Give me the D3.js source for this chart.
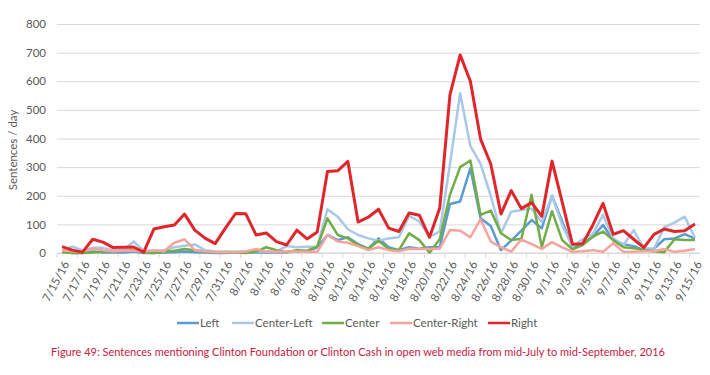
<!DOCTYPE html>
<html>
<head>
<meta charset="utf-8">
<script src="https://cdn.jsdelivr.net/npm/d3@7"></script>
<style>
  body { margin: 0; background: #fff; }
  svg { display: block; font-family: Lato, "Open Sans", sans-serif; }
</style>
</head>
<body>
<svg id="chart" width="710" height="375"></svg>
<script>
// categories : un point par jour, du 15 juillet au 15 septembre 2016
const dates = d3.timeDays(new Date(2016, 6, 15), new Date(2016, 8, 16));
const fmt = d3.timeFormat("%-m/%-d/%y");

const yTicks = [0, 100, 200, 300, 400, 500, 600, 700, 800];

const seriesNames = ["Left", "Center-Left", "Center", "Center-Right", "Right"];
const couleurs = ["#5b9bd5", "#a9c8e8", "#70ad47", "#f4a49c", "#e0262a"];

// valeurs (phrases / jour)
const left = [5, 0, 0, 5, 2, 3, 2, 5, 0, 0, 2, 3, 5, 3, 2, 0, 0,
  3, 2, 2, 3, 2, 3, 8, 5, 20, 63, 45, 55, 31, 15, 51, 20, 10,
  20, 15, 20, 20, 171, 180, 296, 121, 94, 10, 43, 78, 115, 86, 200,
  110, 20, 34, 57, 98, 45, 31, 24, 10, 15, 48, 51, 66, 50];
const centerLeft = [10, 22, 10, 18, 18, 10, 10, 40, 8, 6, 10, 20, 25, 30, 10, 5, 5,
  5, 5, 5, 5, 5, 24, 20, 22, 22, 153, 127, 83, 63, 51, 43, 51, 55,
  130, 110, 57, 75, 310, 558, 374, 311, 200, 69, 144, 150, 155, 108, 200,
  98, 22, 48, 66, 133, 51, 28, 80, 16, 16, 90, 106, 127, 53];
const center = [3, 0, 0, 2, 5, 5, 8, 10, 2, 0, 5, 8, 14, 10, 5, 3, 2,
  2, 0, 5, 20, 10, 3, 10, 8, 22, 121, 63, 51, 28, 14, 43, 14, 10,
  69, 45, 1, 48, 203, 300, 323, 133, 148, 69, 45, 50, 203, 21, 146,
  45, 13, 28, 57, 75, 45, 20, 17, 10, 6, 3, 48, 45, 45];
const centerRight = [10, 6, 5, 16, 10, 6, 8, 8, 5, 10, 6, 36, 48, 10, 6, 3, 3,
  3, 5, 14, 4, 4, 5, 5, 4, 4, 63, 40, 36, 24, 10, 20, 10, 6,
  15, 14, 14, 16, 80, 78, 55, 118, 40, 20, 5, 47, 31, 14, 38,
  20, 4, 6, 10, 4, 34, 4, 4, 6, 6, 14, 4, 8, 14];
const right = [22, 10, 3, 48, 38, 19, 20, 21, 3, 84, 92, 98, 136, 80, 52, 33, 87,
  138, 137, 63, 70, 40, 28, 80, 49, 73, 285, 287, 320, 108, 125, 153, 87, 75,
  140, 132, 55, 157, 552, 692, 600, 398, 311, 136, 218, 155, 176, 128, 321,
  178, 31, 32, 98, 173, 65, 78, 48, 19, 65, 84, 75, 78, 101];

const series = [left, centerLeft, center, centerRight, right];

const margin = { top: 24, right: 10, bottom: 122, left: 57 },
  width = 710 - margin.left - margin.right,
  height = 375 - margin.top - margin.bottom;

const svg = d3.select("#chart");
const g = svg.append("g").attr("transform", `translate(${margin.left},${margin.top})`);

const x = d3.scaleBand().domain(dates.map(fmt)).range([0, width]);
const xc = d => x(d) + x.bandwidth() / 2;
const y = d3.scaleLinear().domain([0, 800]).range([height, 0]);

// grille + axe Y
g.append("g")
  .call(d3.axisLeft(y).tickValues(yTicks).tickSize(-width).tickPadding(11))
  .call(a => a.select(".domain").remove())
  .call(a => a.selectAll("line").attr("stroke", "#d9d9d9"))
  .call(a => a.selectAll("text").attr("fill", "#595959").attr("font-size", 11.5).attr("font-family", "Lato"));

// axe X
const labels = dates.map(fmt).filter((d, i) => i % 2 === 0);
const xAxis = g.append("g").attr("transform", `translate(0,${height})`);
xAxis.append("line").attr("x1", 0).attr("x2", width).attr("stroke", "#d9d9d9");
xAxis.selectAll(".tk")
  .data(labels)
  .enter()
  .append("line")
  .attr("x1", d => x(d)).attr("x2", d => x(d))
  .attr("y1", 0).attr("y2", 5)
  .attr("stroke", "#d9d9d9");
xAxis.selectAll(".lbl")
  .data(labels)
  .enter()
  .append("text")
  .attr("transform", d => `translate(${xc(d) + 4},9) rotate(-62)`)
  .attr("text-anchor", "end")
  .attr("dy", "0.35em")
  .attr("font-size", 11.5)
  .attr("fill", "#595959")
  .text(d => d);

// titre axe Y
svg.append("text")
  .attr("transform", "translate(17,150) rotate(-90)")
  .attr("text-anchor", "middle")
  .attr("font-size", 11.5)
  .attr("fill", "#595959")
  .text("Sentences / day");

// lignes
const line = d3.line()
  .x((d, i) => xc(fmt(dates[i])))
  .y(d => y(d));

series.forEach((s, k) => {
  g.append("path")
    .datum(s)
    .attr("fill", "none")
    .attr("stroke", couleurs[k])
    .attr("stroke-width", k === 4 ? 3 : 2.5)
    .attr("stroke-linejoin", "round")
    .attr("d", line);
});

// légende
const legX = [177, 232, 322, 390, 488];
const leg = svg.append("g").attr("transform", "translate(0,323)");
seriesNames.forEach((n, k) => {
  leg.append("line")
    .attr("x1", legX[k]).attr("x2", legX[k] + 22)
    .attr("stroke", couleurs[k]).attr("stroke-width", 2.5);
  leg.append("text")
    .attr("x", legX[k] + 23)
    .attr("dy", "0.35em")
    .attr("font-size", 11.5)
    .attr("fill", "#595959")
    .text(n);
});

// légende de la figure
svg.append("text")
  .attr("x", 358)
  .attr("y", 356)
  .attr("text-anchor", "middle")
  .attr("font-size", 11)
  .attr("fill", "#c4203f")
  .text("Figure 49: Sentences mentioning Clinton Foundation or Clinton Cash in open web media from mid-July to mid-September, 2016");
</script>
</body>
</html>
